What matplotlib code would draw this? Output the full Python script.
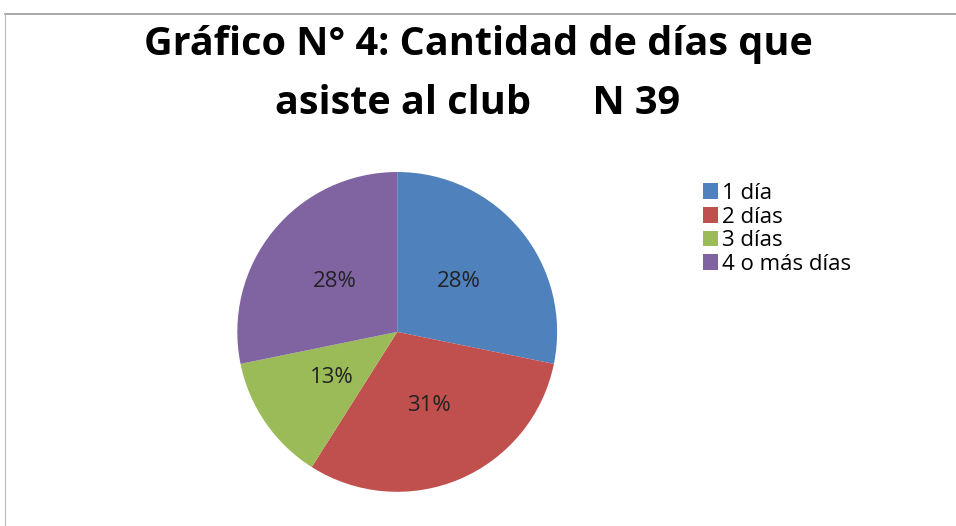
import matplotlib.pyplot as plt
from matplotlib.lines import Line2D

plt.rcParams['font.family'] = ['Open Sans', 'DejaVu Sans']

categorias = ["1 día", "2 días", "3 días", "4 o más días"]
frecuencias = [11, 12, 5, 11]
colores = ["#4F81BD", "#C0504D", "#9BBB59", "#8064A2"]

fig = plt.figure(figsize=(9.56, 5.26), dpi=100)

# border lines like the screenshot frame
fig.add_artist(Line2D([5 / 956, 1], [1 - 14 / 526, 1 - 14 / 526], color="#999999", lw=1.2))
fig.add_artist(Line2D([5 / 956, 5 / 956], [0, 1 - 14 / 526], color="#bbbbbb", lw=0.8))

fig.text(0.5, 1 - 45 / 526, "Gráfico N° 4: Cantidad de días que", ha="center", va="center",
         fontsize=28.5, fontweight="bold")
fig.text(0.5, 1 - 103 / 526, "asiste al club      N 39", ha="center", va="center",
         fontsize=28.5, fontweight="bold")

ax = fig.add_axes([0.248, 0.065, 0.335, 0.608])
wedges, texts, autotexts = ax.pie(frecuencias, colors=colores, startangle=90, counterclock=False,
                                  autopct="%1.0f%%", pctdistance=0.5,
                                  textprops={"fontsize": 16, "color": "#222222"})
ax.set_xlim(-1, 1)
ax.set_ylim(-1, 1)
ax.set_aspect("equal")

fig.legend(wedges, categorias, loc="upper left", bbox_to_anchor=(694 / 956, 1 - 174 / 526),
           frameon=False, fontsize=16, handlelength=0.7, handleheight=0.7,
           handletextpad=0.15, labelspacing=0.12, borderaxespad=0)

fig.savefig("out.png", dpi=100)
